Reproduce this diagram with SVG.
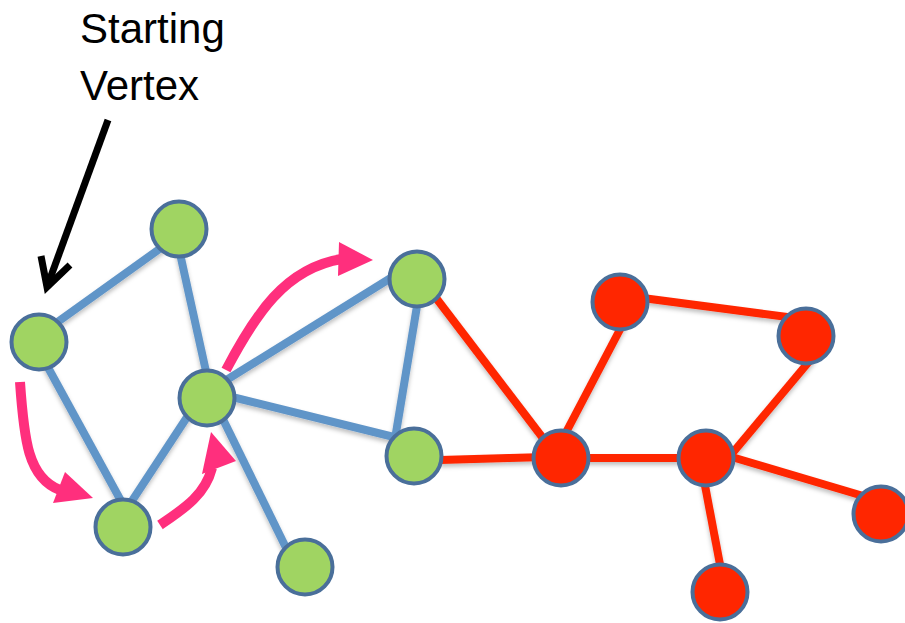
<svg xmlns="http://www.w3.org/2000/svg" width="905" height="623" viewBox="0 0 905 623">
  <style>
    .label { font-family: "Liberation Sans", Arial, sans-serif; font-size: 42px; fill: #000; }
    .blue { stroke: #6195C8; stroke-width: 8; fill: none; }
    .red { stroke: #FF2600; stroke-width: 8; fill: none; }
    .green-node { fill: #A0D462; stroke: #4A6F9A; stroke-width: 4; }
    .red-node { fill: #FF2600; stroke: #4A6F9A; stroke-width: 4; }
    .pink { stroke: #FF2F7D; stroke-width: 10; fill: none; }
    .pink-head { fill: #FF2F7D; }
  </style>
  <defs>
    <filter id="soft" x="-10%" y="-10%" width="120%" height="130%">
      <feDropShadow dx="0" dy="3" stdDeviation="2" flood-color="#000" flood-opacity="0.25"/>
    </filter>
  </defs>

  <!-- caption and pointer -->
  <g id="caption">
    <text class="label" x="80" y="43">Starting</text>
    <text class="label" x="80" y="100">Vertex</text>
    <path d="M108,120 L47,287" stroke="#000" stroke-width="7" fill="none"/>
    <path d="M41,256 L47,287 L70,265" stroke="#000" stroke-width="7" fill="none" stroke-linejoin="miter"/>
  </g>

  <!-- edges -->
  <g id="connectors" filter="url(#soft)">
    <line class="blue" x1="45" y1="331" x2="172" y2="240"/>
    <line class="blue" x1="45" y1="362" x2="126" y2="510"/>
    <line class="blue" x1="177" y1="240" x2="209" y2="385"/>
    <line class="blue" x1="195" y1="405" x2="126" y2="510"/>
    <line class="blue" x1="215" y1="403" x2="292" y2="560"/>
    <line class="blue" x1="220" y1="384" x2="402" y2="271"/>
    <line class="blue" x1="220" y1="394" x2="402" y2="439"/>
    <line class="blue" x1="418" y1="300" x2="394" y2="445"/>

    <line class="red" x1="430" y1="290" x2="552" y2="450"/>
    <line class="red" x1="440" y1="460" x2="545" y2="457"/>
    <line class="red" x1="562" y1="440" x2="625" y2="320"/>
    <line class="red" x1="580" y1="458" x2="690" y2="458"/>
    <line class="red" x1="635" y1="297" x2="795" y2="318"/>
    <line class="red" x1="812" y1="358" x2="725" y2="462"/>
    <line class="red" x1="725" y1="455" x2="870" y2="498"/>
    <line class="red" x1="703" y1="475" x2="722" y2="575"/>
  </g>

  <!-- traversal arrows -->
  <g id="traversal">
    <path class="pink" d="M20,382 C24,440 28,478 60,490"/>
    <polygon class="pink-head" points="53,503 65,472 93,498"/>
    <path class="pink" d="M160,525 C185,508 205,495 212,468"/>
    <polygon class="pink-head" points="202,474 236,461 211,432"/>
    <path class="pink" d="M226,370 C255,315 285,268 342,259"/>
    <polygon class="pink-head" points="339,242 338,276 373,260"/>
  </g>

  <!-- vertices -->
  <g id="node-a"><circle class="green-node" cx="39" cy="342" r="27.5"/></g>
  <g id="node-b"><circle class="green-node" cx="179" cy="229" r="27.5"/></g>
  <g id="node-c"><circle class="green-node" cx="207" cy="398" r="27.5"/></g>
  <g id="node-d"><circle class="green-node" cx="123" cy="527" r="27.5"/></g>
  <g id="node-e"><circle class="green-node" cx="305" cy="567" r="27.5"/></g>
  <g id="node-f"><circle class="green-node" cx="417" cy="279" r="27.5"/></g>
  <g id="node-g"><circle class="green-node" cx="414" cy="456" r="27.5"/></g>

  <g id="node-h"><circle class="red-node" cx="561" cy="458" r="27.5"/></g>
  <g id="node-i"><circle class="red-node" cx="620" cy="302" r="27.5"/></g>
  <g id="node-j"><circle class="red-node" cx="806" cy="336" r="27.5"/></g>
  <g id="node-k"><circle class="red-node" cx="706" cy="458" r="27.5"/></g>
  <g id="node-l"><circle class="red-node" cx="881" cy="514" r="27.5"/></g>
  <g id="node-m"><circle class="red-node" cx="720" cy="592" r="27.5"/></g>
</svg>
